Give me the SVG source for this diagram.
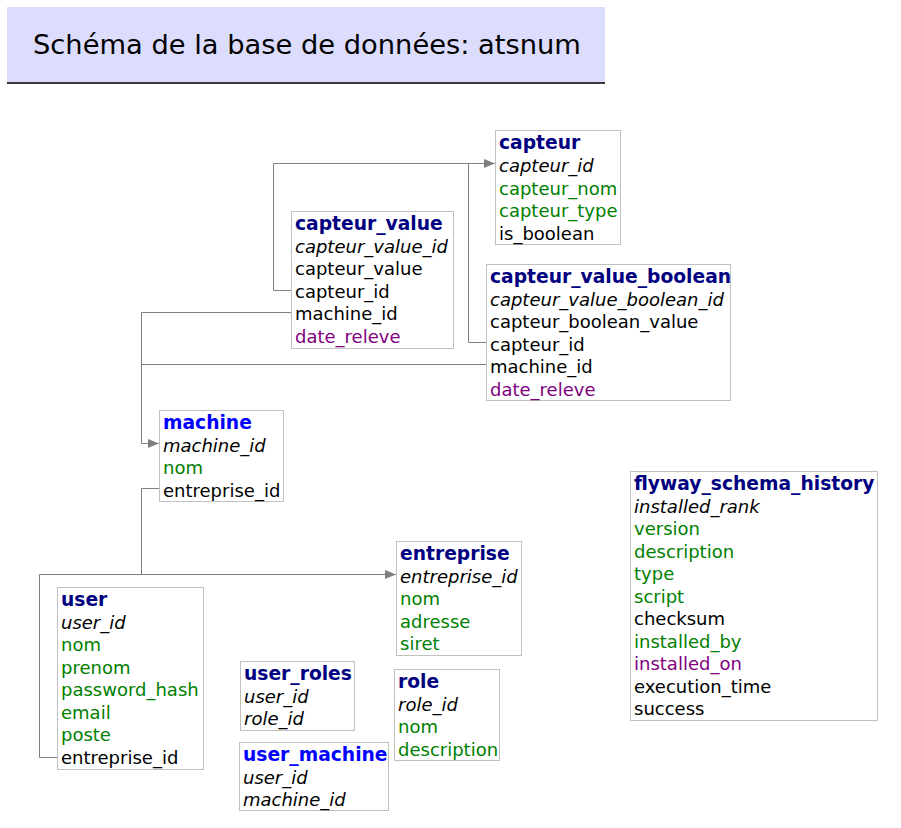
<svg xmlns="http://www.w3.org/2000/svg" width="901" height="828" viewBox="0 0 901 828">
<style>
text{font-family:"DejaVu Sans",Verdana,sans-serif;font-size:18px;fill:#000}
.t{font-weight:bold;fill:#000080;font-size:18.7px}
.tb{font-weight:bold;fill:#0000ff;font-size:18.7px}
.k{font-style:italic}
.g{fill:#008000}
.p{fill:#800080}
.box{fill:#fff;stroke:#c0c0c0;stroke-width:1}
.c{fill:none;stroke:#808080;stroke-width:1}
</style>
<defs>
<marker id="arr" markerWidth="11" markerHeight="10" refX="11" refY="5" orient="auto" markerUnits="userSpaceOnUse">
<path d="M0,0.5 L11,5 L0,9.5 Z" fill="#808080"/>
</marker>
</defs>
<rect width="901" height="828" fill="#fff"/>
<g id="title">
<rect x="7" y="7" width="598" height="76" fill="#dcdcfc"/>
<line x1="7" y1="83" x2="605" y2="83" stroke="#000" stroke-width="1.3"/>
<text x="33" y="54" style="font-size:27.3px">Schéma de la base de données: atsnum</text>
</g>
<g id="connectors">
<polyline class="c" points="291,290.5 273.5,290.5 273.5,163.5 495,163.5" marker-end="url(#arr)"/>
<polyline class="c" points="486,342.5 468.5,342.5 468.5,163.5"/>
<polyline class="c" points="291,312.5 141.5,312.5 141.5,443.5 159,443.5" marker-end="url(#arr)"/>
<polyline class="c" points="486,364.5 141.5,364.5"/>
<polyline class="c" points="159,488.5 141.5,488.5 141.5,574.5"/>
<polyline class="c" points="57,757.5 39.5,757.5 39.5,574.5 396,574.5" marker-end="url(#arr)"/>
</g>
<g id="capteur">
<rect class="box" x="495.5" y="130.5" width="125" height="114"/>
<text x="499" y="149" class="t">capteur</text>
<text x="499" y="172" class="k">capteur_id</text>
<text x="499" y="194.5" class="g">capteur_nom</text>
<text x="499" y="217" class="g">capteur_type</text>
<text x="499" y="239.5">is_boolean</text>
</g>
<g id="capteur_value">
<rect class="box" x="291.5" y="211.5" width="162" height="137"/>
<text x="295" y="230" class="t">capteur_value</text>
<text x="295" y="252.5" class="k">capteur_value_id</text>
<text x="295" y="275">capteur_value</text>
<text x="295" y="297.5">capteur_id</text>
<text x="295" y="320">machine_id</text>
<text x="295" y="342.5" class="p">date_releve</text>
</g>
<g id="capteur_value_boolean">
<rect class="box" x="486.5" y="264.5" width="244" height="136"/>
<text x="490" y="283" class="t">capteur_value_boolean</text>
<text x="490" y="305.5" class="k">capteur_value_boolean_id</text>
<text x="490" y="328">capteur_boolean_value</text>
<text x="490" y="350.5">capteur_id</text>
<text x="490" y="373">machine_id</text>
<text x="490" y="395.5" class="p">date_releve</text>
</g>
<g id="machine">
<rect class="box" x="159.5" y="410.5" width="124" height="91"/>
<text x="163" y="429" class="tb">machine</text>
<text x="163" y="451.5" class="k">machine_id</text>
<text x="163" y="474" class="g">nom</text>
<text x="163" y="496.5">entreprise_id</text>
</g>
<g id="entreprise">
<rect class="box" x="396.5" y="541.5" width="125" height="114"/>
<text x="400" y="560" class="t">entreprise</text>
<text x="400" y="582.5" class="k">entreprise_id</text>
<text x="400" y="605" class="g">nom</text>
<text x="400" y="627.5" class="g">adresse</text>
<text x="400" y="650" class="g">siret</text>
</g>
<g id="user">
<rect class="box" x="57.5" y="587.5" width="146" height="182"/>
<text x="61" y="606" class="t">user</text>
<text x="61" y="628.5" class="k">user_id</text>
<text x="61" y="651" class="g">nom</text>
<text x="61" y="673.5" class="g">prenom</text>
<text x="61" y="696" class="g">password_hash</text>
<text x="61" y="718.5" class="g">email</text>
<text x="61" y="741" class="g">poste</text>
<text x="61" y="763.5">entreprise_id</text>
</g>
<g id="user_roles">
<rect class="box" x="240.5" y="661.5" width="114" height="69"/>
<text x="244" y="680" class="t">user_roles</text>
<text x="244" y="702.5" class="k">user_id</text>
<text x="244" y="725" class="k">role_id</text>
</g>
<g id="user_machine">
<rect class="box" x="239.5" y="742.5" width="149" height="68"/>
<text x="243" y="761" class="tb">user_machine</text>
<text x="243" y="783.5" class="k">user_id</text>
<text x="243" y="806" class="k">machine_id</text>
</g>
<g id="role">
<rect class="box" x="394.5" y="669.5" width="105" height="91"/>
<text x="398" y="688" class="t">role</text>
<text x="398" y="710.5" class="k">role_id</text>
<text x="398" y="733" class="g">nom</text>
<text x="398" y="755.5" class="g">description</text>
</g>
<g id="flyway_schema_history">
<rect class="box" x="630.5" y="471.5" width="247" height="249"/>
<text x="634" y="490" class="t">flyway_schema_history</text>
<text x="634" y="512.5" class="k">installed_rank</text>
<text x="634" y="535" class="g">version</text>
<text x="634" y="557.5" class="g">description</text>
<text x="634" y="580" class="g">type</text>
<text x="634" y="602.5" class="g">script</text>
<text x="634" y="625">checksum</text>
<text x="634" y="647.5" class="g">installed_by</text>
<text x="634" y="670" class="p">installed_on</text>
<text x="634" y="692.5">execution_time</text>
<text x="634" y="715">success</text>
</g>
</svg>
